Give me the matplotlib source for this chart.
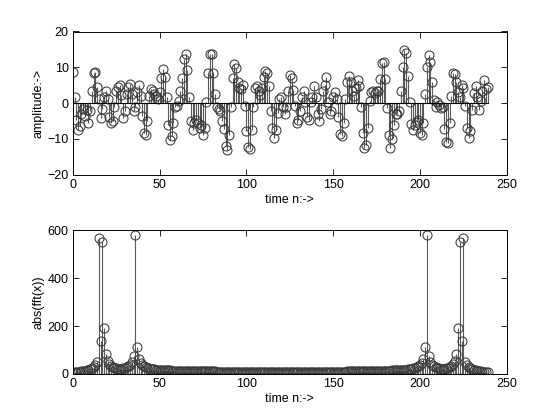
import matplotlib
matplotlib.use("Agg")
import matplotlib.pyplot as plt
import numpy as np

# top: time-domain signal x(n), n = 0..239
signal = [
    8.6, 1.7, -4.8, -7.4, -6.5, -3.0, -1.5, -3.6, -2.0, -5.6,
    -2.2, 3.5, 8.5, 8.8, 4.5, 1.1, -4.1, -1.7, 1.7, 3.3,
    1.1, -3.8, -5.6, -5.0, -1.2, 3.5, 4.5, 5.0, 2.3, -4.1,
    -2.2, 2.6, 4.4, 5.4, 2.6, -2.2, -1.0, 3.0, 5.2, 2.1,
    -3.6, -8.4, -8.9, -4.9, 2.1, 4.0, 3.3, 2.6, 2.1, 1.1,
    3.0, 6.9, 9.4, 7.3, 1.6, -6.0, -10.3, -9.3, -5.5, -1.2,
    -0.8, 0.7, 3.3, 6.9, 12.3, 13.7, 9.2, 1.6, -5.0, -7.4,
    -5.5, -4.6, -5.5, -7.0, -6.2, -9.0, -6.8, 0.2, 8.5, 13.8,
    13.7, 8.5, 2.6, -1.0, -1.7, -2.2, -4.9, -7.3, -11.9, -13.1,
    -8.9, -1.0, 7.1, 10.9, 9.7, 5.9, 4.3, 4.0, 5.0, -0.8,
    -7.7, -12.2, -12.7, -7.4, -1.0, 4.3, 4.7, 3.5, 2.4, 4.3,
    7.3, 9.0, 8.3, 4.7, -2.2, -6.8, -9.8, -7.4, -2.7, 1.1,
    1.6, -1.0, -3.1, -1.2, 3.5, 7.8, 7.1, 3.7, -0.8, -5.5,
    -4.6, -2.2, 1.6, 3.5, 0.2, -3.9, -4.8, 0.2, 1.6, 4.7,
    1.6, -3.1, -5.0, -1.7, 3.5, 5.0, 7.3, 0.2, -3.1, -2.2,
    1.6, 3.0, 1.1, -3.9, -8.6, -9.3, -5.5, 1.1, 5.9, 7.5,
    5.9, 3.5, 2.1, 4.2, 6.4, 4.7, -1.0, -8.4, -12.4, -11.7,
    -7.0, 0.7, 3.0, 3.3, 2.8, 3.5, 3.3, 6.7, 11.1, 11.6,
    6.7, -1.4, -8.9, -12.4, -10.0, -6.0, -3.1, -3.1, -2.2, 3.5,
    10.2, 14.8, 14.0, 7.5, 0.2, -5.8, -7.4, -6.0, -5.2, -4.8,
    -8.4, -9.0, -5.5, 2.6, 10.2, 13.5, 11.6, 5.9, 0.9, -1.0,
    0.2, -0.5, -1.4, -1.0, -7.1, -10.8, -11.0, -5.5, 2.1, 8.5,
    8.1, 5.9, 3.0, 1.6, 5.0, 4.3, -0.8, -6.8, -9.8, -7.7,
    -2.0, 2.8, 4.7, 1.6, -2.0, 0.7, 3.3, 6.4, 4.0, 4.5,
]

# bottom: |FFT| magnitudes, k = 0..239
spectrum_low = [
    5, 6, 7, 8, 9, 10, 11, 13, 15, 17,
    20, 24, 29, 36, 48, 570, 137, 550, 190, 83,
    52, 40, 33, 28, 25, 23, 22, 22, 22, 23,
    25, 27, 31, 37, 48, 73, 580, 111, 61, 44,
    36, 31, 27, 25, 23, 21, 20, 19, 18, 17,
    16, 16, 15, 15, 14, 14, 14, 13, 13, 13,
    13, 12, 12, 12, 12, 12, 11, 11, 11, 11,
    11, 11, 10, 10, 10, 10, 10, 10, 10, 10,
    10, 10, 10, 9, 9, 9, 9, 9, 9, 9,
    9, 9, 9, 9, 9, 9, 9, 9, 9, 9,
    9, 9, 9, 9, 9, 9, 9, 9, 9, 9,
    9, 9, 9, 9, 9, 9, 9, 9, 9, 9,
    9,
]
spectrum_high = [
    9, 9, 9, 9, 9, 9, 9, 9, 9, 9,
    9, 9, 9, 9, 9, 9, 9, 9, 9, 9,
    9, 9, 9, 9, 9, 9, 9, 9, 9, 9,
    9, 9, 9, 9, 9, 9, 9, 10, 10, 10,
    10, 10, 10, 10, 10, 10, 10, 10, 11, 11,
    11, 11, 11, 11, 12, 12, 12, 12, 12, 13,
    13, 13, 13, 14, 14, 14, 15, 15, 16, 16,
    17, 18, 19, 20, 21, 23, 25, 27, 31, 36,
    44, 61, 111, 580, 73, 48, 37, 31, 27, 25,
    23, 22, 22, 22, 23, 25, 28, 33, 40, 52,
    83, 190, 550, 137, 570, 48, 36, 29, 24, 20,
    17, 15, 13, 11, 10, 9, 8, 7, 6,
]
spectrum = spectrum_low + spectrum_high

xticks = [0, 50, 100, 150, 200, 250]
top_yticks = [-20, -10, 0, 10, 20]
bot_yticks = [0, 200, 400, 600]

plt.rcParams['font.family'] = ['Liberation Sans', 'DejaVu Sans']
stem_col = '#5a5a5a'
mark_col = '#3a3a3a'

fig = plt.figure(figsize=(5.6, 4.2), dpi=100, facecolor='white')
ax1 = fig.add_axes([0.13, 0.5838, 0.775, 0.3412])
ax2 = fig.add_axes([0.13, 0.11, 0.775, 0.3412])


def stemplot(ax, vals):
    n = np.arange(len(vals))
    ml, sl, bl = ax.stem(n, vals, basefmt='k-')
    plt.setp(sl, color=stem_col, linewidth=0.8)
    plt.setp(ml, marker='o', markersize=6.5, markerfacecolor='none',
             markeredgecolor=mark_col, markeredgewidth=0.75)
    plt.setp(bl, color='black', linewidth=0.8)


stemplot(ax1, signal)
stemplot(ax2, spectrum)

for ax in (ax1, ax2):
    ax.set_xlim(0, 250)
    ax.set_xticks(xticks)
    ax.tick_params(direction='in', top=True, right=True, length=4,
                   width=0.6, labelsize=9, pad=3)
    for s in ax.spines.values():
        s.set_linewidth(0.7)
    ax.set_xlabel('time n:->', fontsize=9, labelpad=2)

ax1.set_ylim(-20, 20)
ax1.set_yticks(top_yticks)
ax1.set_ylabel('amplitude:->', fontsize=9, labelpad=2)
ax2.set_ylim(0, 600)
ax2.set_yticks(bot_yticks)
ax2.set_ylabel('abs(fft(x))', fontsize=9, labelpad=2)

fig.savefig('out.png', dpi=100, facecolor='white')
